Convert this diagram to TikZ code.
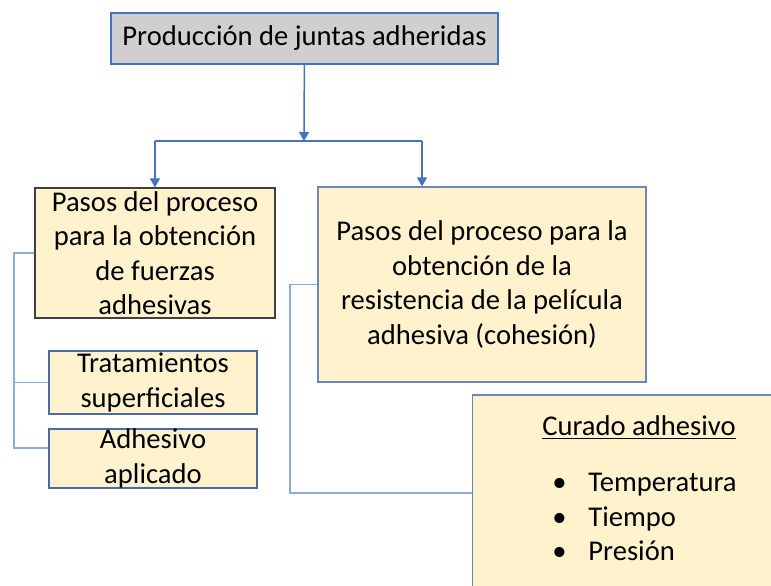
\documentclass[tikz,border=0pt]{standalone}
\usepackage{fontspec}
\setmainfont{Carlito}
\usetikzlibrary{arrows.meta}
\definecolor{grisbox}{HTML}{D0CECE}
\definecolor{amarillo}{HTML}{FFF2CC}
\definecolor{azul}{HTML}{4472C4}
\definecolor{azulclaro}{HTML}{8EA9DB}
\definecolor{borde}{HTML}{6F86B8}
\definecolor{bordeosc}{HTML}{4D6A9E}
\begin{document}
\begin{tikzpicture}[x=0.5pt, y=-0.5pt, font=\fontsize{14.3}{17.2}\selectfont,
          >={Triangle[width=5pt,length=4.5pt]},
          caja/.style={draw, line width=0.6pt, align=center, inner sep=0pt},
          titulo/.style={caja, fill=grisbox, draw=azul, minimum width=193.5pt, minimum height=25.5pt},
          paso/.style={caja, fill=amarillo, draw=bordeosc},
          enlace/.style={line width=0.75pt, draw=azulclaro},
          flecha/.style={line width=0.75pt, draw=azul, ->}]
        \clip (0,0) rectangle (771,585);
        \node[titulo] (prod) at (304.5,38.5) {Producción de juntas adheridas};
        \node[paso, draw=black!75, minimum width=120pt, minimum height=65pt] (fuerzas) at (155,253)
          {Pasos del proceso\\para la obtención\\de fuerzas\\adhesivas};
        \node[paso, draw=borde, minimum width=164pt, minimum height=97.5pt] (cohesion) at (482,284.5)
          {Pasos del proceso para la\\obtención de la\\resistencia de la película\\adhesiva (cohesión)};
        \node[paso, minimum width=104pt, minimum height=31.5pt] (trat) at (153,382.5) {Tratamientos\\superficiales};
        \node[paso, minimum width=104pt, minimum height=29.5pt] (adh) at (153,458.5) {Adhesivo\\aplicado};
        \node[paso, draw=borde, anchor=west, minimum width=160pt, minimum height=98pt] (curado) at (472,493) {};
        \node (curtit) at (639,428) {\underline{Curado adhesivo}};
        \node[anchor=west, align=left, inner sep=0pt] (factores) at (552,517)
          {\makebox[18pt][l]{\textbullet}Temperatura\\\makebox[18pt][l]{\textbullet}Tiempo\\\makebox[18pt][l]{\textbullet}Presión};
        \coordinate (rama) at (304,141);
        \coordinate (ramader) at (422,141);
        \coordinate (bizq) at (14,448);
        \coordinate (bder) at (290,493);
        % flechas principales
        \draw[flecha] (prod) -- (rama);
        \draw[enlace, draw=azul] (rama -| fuerzas) -- (ramader);
        \draw[flecha] (rama -| fuerzas) -- (fuerzas);
        \draw[flecha] (ramader) -- (ramader |- cohesion.north);
        % llaves laterales
        \draw[enlace] (fuerzas.west) -| (bizq) -- (bizq -| adh.west);
        \draw[enlace] (trat.west) -- (trat.west -| bizq);
        \draw[enlace] (cohesion.west) -| (bder) -- (curado.west);
      \end{tikzpicture}
\end{document}
